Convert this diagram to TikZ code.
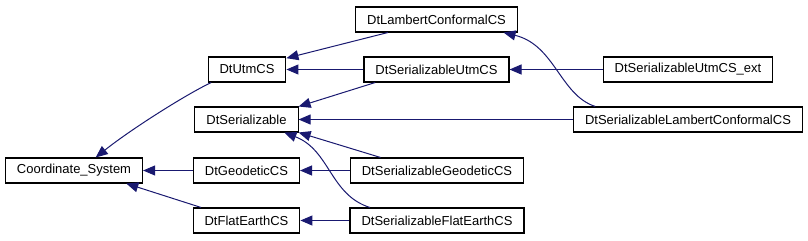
\documentclass[tikz,border=0pt]{standalone}
\usepackage{fontspec}
\setmainfont{Liberation Sans}
\usetikzlibrary{
    arrows.meta          % For arrow tips
}
\definecolor{edgeblue}{HTML}{191970}

\begin{document}
\begin{tikzpicture}[
    x=0.75pt, y=-0.75pt, % One unit is one pixel, y runs downwards
    >={Triangle[length=9pt, width=7.5pt]}, % Default arrow tip
    cls/.style={draw=black, line width=0.8pt, fill=white,
        minimum height=18.75pt, inner xsep=8.6pt, inner ysep=0pt,
        font=\fontsize{9.75}{11}\selectfont}, % Style for class boxes
    inh/.style={->, draw=edgeblue, line width=0.75pt} % Style for inheritance edges
]

    % Fix the margins
    \useasboundingbox (0,0) rectangle (808,240);

    % Base classes
    \node[cls] (cs)    at (74,170.5)  {Coordinate\_System};
    \node[cls] (utm)   at (247,69.5)  {DtUtmCS};
    \node[cls] (ser)   at (246.5,119.5) {DtSerializable};
    \node[cls] (geo)   at (246.5,170.5) {DtGeodeticCS};
    \node[cls] (flat)  at (246.5,220.5) {DtFlatEarthCS};

    % Derived classes
    \node[cls] (lcc)   at (436.5,19.5)  {DtLambertConformalCS};
    \node[cls] (sutm)  at (436.5,69.5)  {DtSerializableUtmCS};
    \node[cls] (sgeo)  at (437,170.5)   {DtSerializableGeodeticCS};
    \node[cls] (sflat) at (437,220.5)   {DtSerializableFlatEarthCS};
    \node[cls] (sutmx) at (688,69.5)    {DtSerializableUtmCS\_ext};
    \node[cls] (slcc)  at (688,119.5)   {DtSerializableLambertConformalCS};

    % Edges to Coordinate_System
    \draw[inh] (utm.200) .. controls (185,95) and (130,130) .. (cs.31);
    \draw[inh] (geo) -- (cs);
    \draw[inh] (flat.164) -- (cs.-14);

    % Edges to DtUtmCS
    \draw[inh] (lcc.195) -- (utm.16);
    \draw[inh] (sutm) -- (utm);

    % Edges to DtSerializable
    \draw[inh] (sutm.192) -- (ser.14);
    \draw[inh] (slcc) -- (ser);
    \draw[inh] (sgeo.167) -- (ser.-14);
    \draw[inh] (sflat.169) .. controls (330,195) and (330,150) .. (ser.-19);

    % Remaining edges
    \draw[inh] (sgeo) -- (geo);
    \draw[inh] (sflat) -- (flat);
    \draw[inh] (sutmx) -- (sutm);
    \draw[inh] (slcc.172) .. controls (560,95) and (555,45) .. (lcc.-11);

\end{tikzpicture}
\end{document}
